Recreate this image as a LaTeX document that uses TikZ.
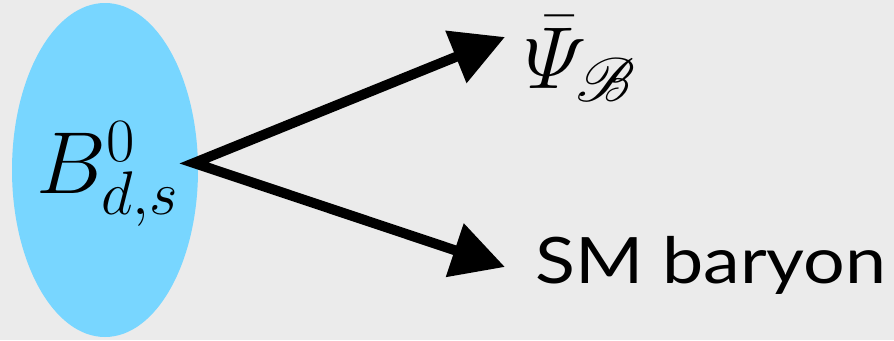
\RequirePackage{fix-cm}
\documentclass[tikz,border=0pt]{standalone}
\usepackage{amsmath}
\usepackage{mathrsfs}
\DeclareFontFamily{U}{rsfs}{\skewchar\font127 }
\DeclareFontShape{U}{rsfs}{m}{n}{<-6> rsfs5 <6-8> rsfs7 <8-> rsfs10}{}
\usepackage{fontspec}
\newfontfamily\lblfont[FakeStretch=1.15]{Lato}
\usepackage{xcolor}
\usepackage{tikz}
\usetikzlibrary{positioning,arrows.meta,shapes.geometric}

\definecolor{bgray}{HTML}{EBEBEB}
\definecolor{mesonblue}{HTML}{78D6FF}

\begin{document}
\begin{tikzpicture}[
    x=1pt, y=-1pt,
    meson/.style={ellipse, fill=mesonblue, minimum width=186pt, minimum height=334pt, inner sep=0pt},
    big/.style={inner sep=0pt, font=\fontsize{88}{100}\selectfont},
    sm/.style={inner sep=0pt, font=\fontsize{64}{70}\selectfont\lblfont},
    fl/.style={{Triangle[length=53pt,width=54pt]}-{Triangle[length=53pt,width=54pt]}, line width=10pt},
]
    \fill[bgray] (0,0) rectangle (894,340);
    \useasboundingbox (0,0) rectangle (894,340);
    \node[meson] (b) at (105,170) {};
    \node[big, anchor=base west] (bname) at (36,193) {$B^0_{d,s}$};
    \coordinate (v) at (194,163);
    \coordinate (t1) at (505,37);
    \coordinate (t2) at (505,267);
    \node[big, anchor=base west] (psi) at (524,88) {$\bar{\varPsi}_{\mathscr{B}}$};
    \node[sm, anchor=base west] (sm) at (535,283) {SM baryon};
    \draw[fl] (t1) -- (v) -- (t2);
\end{tikzpicture}
\end{document}
